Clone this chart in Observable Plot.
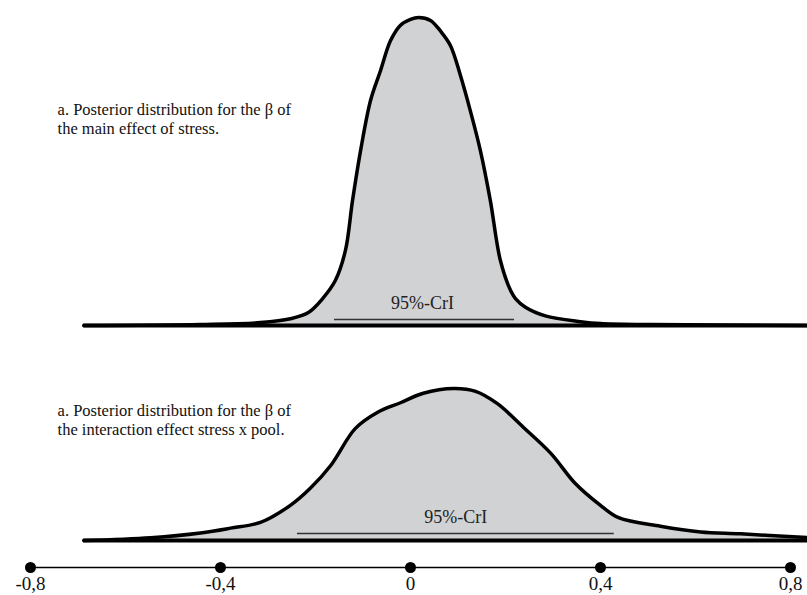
<!DOCTYPE html>
<html>
<head>
<meta charset="utf-8">
<script src="https://cdn.jsdelivr.net/npm/d3@7"></script>
<script src="https://cdn.jsdelivr.net/npm/@observablehq/plot@0.6"></script>
<style>
  html, body { margin: 0; padding: 0; background: #fff; }
  #chart { width: 807px; height: 595px; overflow: hidden; }
  #chart svg { display: block; overflow: visible; }
  #chart svg text { font-family: 'Liberation Serif', 'Times New Roman', serif !important; }
</style>
</head>
<body>
<div id="chart"></div>
<script>
// ---- Data ----
// Panel a: posterior of beta, main effect of stress
const mainX = [-0.688, -0.442, -0.316, -0.253, -0.215, -0.185, -0.158, -0.137, -0.122, -0.105, -0.084, -0.063, -0.042, -0.021, 0.000, 0.017, 0.042, 0.063, 0.084, 0.105, 0.126, 0.147, 0.168, 0.189, 0.211, 0.221, 0.242, 0.284, 0.358, 0.400, 0.505, 0.836];
const mainDensity = [0.00, 0.01, 0.03, 0.07, 0.135, 0.28, 0.47, 0.78, 1.30, 1.82, 2.34, 2.65, 2.96, 3.12, 3.18, 3.20, 3.17, 3.06, 2.91, 2.60, 2.23, 1.82, 1.30, 0.68, 0.36, 0.28, 0.19, 0.10, 0.04, 0.02, 0.01, 0.00];
const mainCrI = [-0.16, 0.219];

// Panel b: posterior of beta, interaction effect stress x pool
const interX = [-0.688, -0.547, -0.442, -0.379, -0.316, -0.253, -0.211, -0.168, -0.116, -0.069, -0.021, 0.027, 0.091, 0.137, 0.183, 0.238, 0.295, 0.347, 0.400, 0.438, 0.526, 0.611, 0.695, 0.836];
const interDensity = [0.00, 0.03, 0.08, 0.13, 0.19, 0.37, 0.55, 0.79, 1.18, 1.35, 1.45, 1.55, 1.60, 1.57, 1.44, 1.19, 0.92, 0.60, 0.37, 0.24, 0.15, 0.09, 0.07, 0.03];
const interCrI = [-0.238, 0.429];

const tickValues = [-0.8, -0.4, 0, 0.4, 0.8];
const tickLabels = ["-0,8", "-0,4", "0", "0,4", "0,8"];

const titleMain = "a. Posterior distribution for the \u03b2 of\nthe main effect of stress.";
const titleInter = "a. Posterior distribution for the \u03b2 of\nthe interaction effect stress x pool.";
const crILabel = "95%-CrI";

// ---- Layout helpers ----
const FONT = "Liberation Serif";
const W = 807;
const xScale = {domain: [-0.8, 0.8], axis: null};
const mL = 30, mR = 17;
const fillColor = "#d1d2d4";

function densityPanel({xs, ys, crI, title, titleY, titleX, labelX, labelY, ruleY, height, marginTop, marginBottom, yMax}) {
  const data = xs.map((x, i) => ({x, y: ys[i]}));
  return Plot.plot({
    width: W, height, marginLeft: mL, marginRight: mR, marginTop, marginBottom,
    x: xScale,
    y: {domain: [0, yMax], axis: null},
    style: {fontFamily: FONT, background: "transparent", overflow: "visible"},
    marks: [
      Plot.areaY(data, {x: "x", y: "y", fill: fillColor, curve: "catmull-rom"}),
      Plot.ruleY([0], {x1: d3.min(xs), x2: d3.max(xs), stroke: "#000", strokeWidth: 4}),
      Plot.lineY(data, {x: "x", y: "y", stroke: "#000", strokeWidth: 3.5, curve: "catmull-rom", strokeLinejoin: "round", strokeLinecap: "round"}),
      Plot.ruleY([ruleY], {x1: crI[0], x2: crI[1], stroke: "#333", strokeWidth: 1.5}),
      Plot.text([crILabel], {x: labelX, y: labelY, text: d => d, fontFamily: FONT, fontSize: 18, fill: "#222", lineAnchor: "middle", textAnchor: "middle"}),
      Plot.text([title], {x: titleX, y: titleY, text: d => d, fontFamily: FONT, fontSize: 16.5, fill: "#111", textAnchor: "start", lineAnchor: "top", lineHeight: 1.17})
    ]
  });
}

const panelMain = densityPanel({
  xs: mainX, ys: mainDensity, crI: mainCrI, title: titleMain,
  titleX: -0.743, titleY: 2.33, labelX: 0.025, labelY: 0.23, ruleY: 0.062,
  height: 335, marginTop: 17, marginBottom: 10, yMax: 3.20
});

const panelInter = densityPanel({
  xs: interX, ys: interDensity, crI: interCrI, title: titleInter,
  titleX: -0.743, titleY: 1.46, labelX: 0.095, labelY: 0.25, ruleY: 0.074,
  height: 210, marginTop: 53, marginBottom: 5, yMax: 1.60
});

const axisPanel = Plot.plot({
  width: W, height: 50, marginLeft: mL, marginRight: mR, marginTop: 22, marginBottom: 28,
  x: xScale,
  y: {domain: [0, 1], axis: null},
  style: {fontFamily: FONT, background: "transparent", overflow: "visible"},
  marks: [
    Plot.ruleY([0], {x1: tickValues[0], x2: tickValues[tickValues.length - 1], stroke: "#000", strokeWidth: 1.3}),
    Plot.dot(tickValues, {x: d => d, y: 0, r: 5.5, fill: "#000"}),
    Plot.text(tickValues, {x: d => d, y: 0, text: (d, i) => tickLabels[i], fontFamily: FONT, fontSize: 19, fill: "#111", lineAnchor: "top", dy: 9})
  ]
});

document.getElementById("chart").append(panelMain, panelInter, axisPanel);
</script>
</body>
</html>
